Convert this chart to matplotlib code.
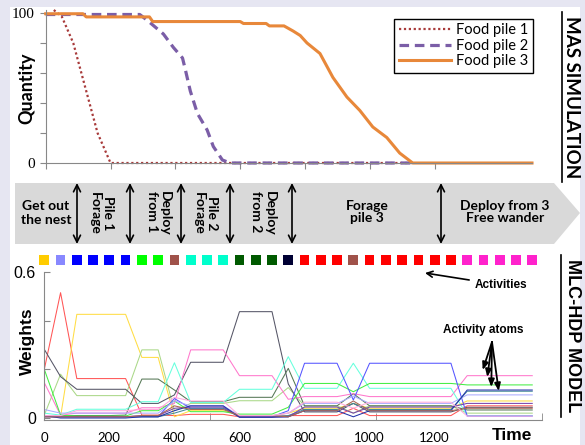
import matplotlib.pyplot as plt
from matplotlib.patches import Polygon, Rectangle
from matplotlib.ticker import FixedLocator

W, H = 585, 445

# MAS simulation: quantity left in each food pile over time
pile1_t = [25, 50, 85, 110, 135, 160, 200, 1130]
pile1_q = [102, 97.5, 80, 60, 40, 20, 0, 0]
pile2_t = [0, 290, 314, 363, 394, 422, 431, 446, 468, 498, 517, 545, 569, 1130]
pile2_q = [99, 99, 95, 86, 77, 70, 62, 48, 33, 22, 11, 2, 0, 0]
pile3_t = [0, 115, 125, 320, 330, 600, 610, 680, 690, 735, 763, 785, 806, 846,
           886, 929, 969, 1009, 1052, 1092, 1132, 1500]
pile3_q = [99.5, 99.5, 97.4, 97.4, 94.3, 94.3, 93, 93, 91.4, 91.4, 88, 85, 80, 73,
           57, 44, 35, 24, 17, 6.6, 0, 0]
pile_labels = ["Food pile 1", "Food pile 2", "Food pile 3"]

# MLC-HDP model: one activity every 50 time steps
steps = list(range(0, 1501, 50))
activity_colors = (["#ffcc00", "#8888ff"] + ["#0000ff"] * 4 + ["#00ff00"] * 2
                   + ["#a0524a"] + ["#00ffcc"] * 3 + ["#005a00"] * 3 + ["#000033"]
                   + ["#ff0000"] * 3 + ["#a0524a"] + ["#ff0000"] * 6 + ["#ff22cc"] * 5)

atom_colors = ["#ff5555", "#ffdd44", "#aad888", "#555566", "#557755", "#ff77cc",
               "#66ffdd", "#44ee44", "#5555ff", "#aaaaff", "#448899", "#7744aa",
               "#2233aa", "#aa6655", "#ffaadd"]
atom_weights = [
    [0.20, 0.515, 0.162, 0.162, 0.162, 0.162, 0.012, 0.012, 0.01, 0.015, 0.015, 0.015, 0.005, 0.005, 0.005, 0.01,
     0.01, 0.01, 0.01, 0.04, 0.01, 0.01, 0.01, 0.01, 0.01, 0.01, 0.05, 0.05, 0.05, 0.05, 0.05],
    [0.005, 0.005, 0.426, 0.426, 0.426, 0.426, 0.249, 0.249, 0.005, 0.03, 0.03, 0.03, 0.01, 0.01, 0.01, 0.02,
     0.04, 0.04, 0.04, 0.06, 0.04, 0.04, 0.04, 0.04, 0.04, 0.04, 0.07, 0.07, 0.07, 0.07, 0.07],
    [0.012, 0.18, 0.092, 0.092, 0.092, 0.092, 0.28, 0.28, 0.03, 0.06, 0.06, 0.06, 0.071, 0.071, 0.071, 0.125,
     0.05, 0.05, 0.05, 0.02, 0.05, 0.05, 0.05, 0.05, 0.05, 0.05, 0.02, 0.02, 0.02, 0.02, 0.02],
    [0.282, 0.17, 0.118, 0.118, 0.118, 0.118, 0.06, 0.06, 0.095, 0.229, 0.229, 0.229, 0.437, 0.437, 0.437, 0.14,
     0.025, 0.025, 0.025, 0.06, 0.025, 0.025, 0.025, 0.025, 0.025, 0.025, 0.044, 0.044, 0.044, 0.044, 0.044],
    [0.01, 0.01, 0.01, 0.01, 0.01, 0.012, 0.16, 0.16, 0.115, 0.067, 0.067, 0.067, 0.085, 0.085, 0.085, 0.204,
     0.05, 0.05, 0.05, 0.1, 0.05, 0.05, 0.05, 0.05, 0.05, 0.05, 0.033, 0.033, 0.033, 0.033, 0.033],
    [0.145, 0.012, 0.02, 0.02, 0.02, 0.02, 0.042, 0.042, 0.06, 0.28, 0.28, 0.28, 0.174, 0.174, 0.174, 0.077,
     0.088, 0.088, 0.088, 0.1, 0.088, 0.088, 0.088, 0.088, 0.088, 0.088, 0.174, 0.174, 0.174, 0.174, 0.174],
    [0.02, 0.012, 0.036, 0.036, 0.036, 0.036, 0.067, 0.067, 0.227, 0.064, 0.064, 0.064, 0.118, 0.118, 0.118, 0.252,
     0.122, 0.122, 0.122, 0.225, 0.122, 0.122, 0.122, 0.122, 0.122, 0.122, 0.01, 0.01, 0.01, 0.01, 0.01],
    [0.2, 0.012, 0.008, 0.008, 0.008, 0.008, 0.03, 0.03, 0.07, 0.026, 0.026, 0.026, 0.016, 0.016, 0.016, 0.044,
     0.142, 0.142, 0.142, 0.108, 0.142, 0.142, 0.142, 0.142, 0.142, 0.142, 0.136, 0.136, 0.136, 0.136, 0.136],
    [0.005, 0.005, 0.005, 0.005, 0.005, 0.005, 0.005, 0.005, 0.08, 0.04, 0.04, 0.04, 0.005, 0.005, 0.005, 0.03,
     0.225, 0.225, 0.225, 0.074, 0.225, 0.225, 0.225, 0.225, 0.225, 0.225, 0.008, 0.008, 0.008, 0.008, 0.008],
    [0.035, 0.02, 0.02, 0.02, 0.02, 0.02, 0.02, 0.02, 0.07, 0.05, 0.05, 0.05, 0.01, 0.01, 0.01, 0.02,
     0.06, 0.06, 0.06, 0.09, 0.06, 0.06, 0.06, 0.06, 0.06, 0.06, 0.095, 0.095, 0.095, 0.095, 0.095],
    [0.01, 0.005, 0.005, 0.005, 0.005, 0.005, 0.005, 0.005, 0.02, 0.04, 0.04, 0.04, 0.005, 0.005, 0.005, 0.01,
     0.035, 0.035, 0.035, 0.06, 0.035, 0.035, 0.035, 0.035, 0.035, 0.035, 0.11, 0.11, 0.11, 0.11, 0.11],
    [0.005, 0.005, 0.005, 0.005, 0.005, 0.005, 0.01, 0.01, 0.04, 0.045, 0.045, 0.045, 0.005, 0.005, 0.005, 0.005,
     0.045, 0.045, 0.045, 0.02, 0.045, 0.045, 0.045, 0.045, 0.045, 0.045, 0.06, 0.06, 0.06, 0.06, 0.06],
    [0.01, 0.0, 0.0, 0.0, 0.0, 0.0, 0.005, 0.005, 0.03, 0.05, 0.05, 0.05, 0.003, 0.003, 0.003, 0.005,
     0.03, 0.03, 0.03, 0.005, 0.03, 0.03, 0.03, 0.03, 0.03, 0.03, 0.115, 0.115, 0.115, 0.115, 0.115],
    [0.005, 0.005, 0.005, 0.005, 0.005, 0.005, 0.01, 0.01, 0.05, 0.035, 0.035, 0.035, 0.01, 0.01, 0.01, 0.005,
     0.03, 0.03, 0.03, 0.07, 0.03, 0.03, 0.03, 0.03, 0.03, 0.03, 0.04, 0.04, 0.04, 0.04, 0.04],
    [0.01, 0.01, 0.03, 0.03, 0.03, 0.03, 0.035, 0.035, 0.085, 0.07, 0.07, 0.07, 0.01, 0.01, 0.01, 0.02,
     0.065, 0.065, 0.065, 0.04, 0.065, 0.065, 0.065, 0.065, 0.065, 0.065, 0.008, 0.008, 0.008, 0.008, 0.008],
]

SPINE = "#888888"

fig = plt.figure(figsize=(W / 100, H / 100), dpi=100)
fig.patch.set_facecolor("#e6e6f2")

# full-figure layer in pixel coords for the panel, phase banner and side titles
bg = fig.add_axes([0, 0, 1, 1], zorder=0)
bg.set_xlim(0, W)
bg.set_ylim(H, 0)
bg.axis("off")
bg.add_patch(Rectangle((10, 7), 570, 438, facecolor="white", edgecolor="none"))
bg.add_patch(Polygon([(15, 183), (554, 183), (580, 213), (554, 244), (15, 244)],
                     closed=True, facecolor="#d9d9d9", edgecolor="none"))
for x in [77, 130, 181, 230, 292, 441]:
    bg.annotate("", xy=(x, 183), xytext=(x, 244),
                arrowprops=dict(arrowstyle="<->, head_length=0.5, head_width=0.25",
                                lw=1.2, color="black", shrinkA=0, shrinkB=0))

band = dict(family="Lato", fontweight="bold", fontsize=10, linespacing=1.1)
bg.text(46, 213, "Get out\nthe nest", ha="center", va="center", **band)
bg.text(101, 213, "Pile 1\nForage", rotation=-90, ha="center", va="center", ma="center", **band)
bg.text(158, 191, "Deploy\nfrom 1", rotation=-90, ha="center", va="top", ma="left", **band)
bg.text(205, 213, "Pile 2\nForage", rotation=-90, ha="center", va="center", ma="center", **band)
bg.text(263, 191, "Deploy\nfrom 2", rotation=-90, ha="center", va="top", ma="left", **band)
bg.text(367, 212, "Forage\npile 3", ha="center", va="center", **band)
bg.text(505, 212, "Deploy from 3\nFree wander", ha="center", va="center", **band)

bg.text(571, 97, "MAS SIMULATION", rotation=-90, ha="center", va="center",
        family="Lato", fontweight="bold", fontsize=13.5)
bg.plot([562, 562], [12, 182], color="black", lw=1.2)
bg.text(572, 336, "MLC-HDP MODEL", rotation=-90, ha="center", va="center",
        family="Liberation Sans", fontweight="bold", fontsize=13)
bg.plot([561, 561], [255, 417], color="black", lw=1.2)

bg.text(27, 88, "Quantity", rotation=90, ha="center", va="center",
        family="Lato", fontweight="bold", fontsize=13)
bg.text(27, 341, "Weights", rotation=90, ha="center", va="center",
        family="Liberation Sans", fontweight="bold", fontsize=12.5)
bg.text(512, 435, "Time", ha="center", va="center",
        family="Liberation Sans", fontweight="bold", fontsize=12.5)

# top: food piles
ax1 = fig.add_axes([45.7 / W, (H - 163) / H, (532 - 45.7) / W, 153 / H], zorder=2)
ax1.set_facecolor("none")
ax1.plot(pile1_t, pile1_q, color="#a83a3a", lw=1.6, ls=(0, (1, 1.2)), label=pile_labels[0], clip_on=False)
ax1.plot(pile2_t, pile2_q, color="#7b5ea7", lw=2.3, ls=(0, (3, 1.8)), label=pile_labels[1], clip_on=False)
ax1.plot(pile3_t, pile3_q, color="#e8883a", lw=2.2, label=pile_labels[2], clip_on=False)
ax1.set_xlim(0, 1500)
ax1.set_ylim(0, 102)
for s in ["top", "right"]:
    ax1.spines[s].set_visible(False)
for s in ["left", "bottom"]:
    ax1.spines[s].set_color(SPINE)
ax1.set_xticks(range(0, 1201, 200))
ax1.set_xticklabels([])
ax1.set_yticks(range(0, 101, 20))
ax1.set_yticklabels(["0", "", "", "", "", "100"], family="Liberation Serif", fontsize=11)
ax1.tick_params(direction="out", length=4, color=SPINE, pad=4)
leg = ax1.legend(loc="upper right", bbox_to_anchor=(533 / W, (H - 19) / H),
                 bbox_transform=fig.transFigure, frameon=True, fancybox=False,
                 edgecolor="black", framealpha=1, borderaxespad=0, handlelength=3.6,
                 handletextpad=0.35, labelspacing=0.1, borderpad=0.3,
                 prop={"family": "Lato", "size": 10.5})
leg.get_frame().set_linewidth(1.0)

# bottom: activity atom weights
ax2 = fig.add_axes([44.3 / W, (H - 420) / H, (542 - 44.3) / W, 148 / H], zorder=2)
ax2.set_facecolor("none")
for vals, col in zip(atom_weights, atom_colors):
    ax2.plot(steps, vals, color=col, lw=0.75)
ax2.scatter(steps, [0.65] * len(steps), marker="s", s=7 ** 2, c=activity_colors,
            linewidths=0, clip_on=False)
ax2.set_xlim(0, 1530)
ax2.set_ylim(-0.0082, 0.6)
for s in ["top", "right"]:
    ax2.spines[s].set_visible(False)
for s in ["left", "bottom"]:
    ax2.spines[s].set_color(SPINE)
ax2.set_xticks(range(0, 1201, 200))
ax2.set_xticklabels([str(v) for v in range(0, 1201, 200)], family="Lato", fontsize=9.5)
ax2.tick_params(axis="x", length=0, pad=9)
ax2.xaxis.set_minor_locator(FixedLocator([510, 1020, 1530]))
ax2.tick_params(axis="x", which="minor", direction="in", length=5, color=SPINE)
ax2.set_yticks([0, 0.2, 0.4, 0.6])
ax2.set_yticklabels(["0", "", "", "0.6"], family="Liberation Sans", fontsize=11.5)
ax2.tick_params(axis="y", direction="in", length=4, color=SPINE, pad=6)

# annotations on top of everything
fg = fig.add_axes([0, 0, 1, 1], zorder=5)
fg.set_xlim(0, W)
fg.set_ylim(H, 0)
fg.axis("off")
fg.annotate("Activities", xy=(425, 273), xytext=(501, 285), ha="center", va="center",
            family="Liberation Sans", fontweight="bold", fontsize=8.5,
            arrowprops=dict(arrowstyle="->, head_length=0.5, head_width=0.25",
                            lw=1.2, color="black", shrinkB=0))
fg.text(483, 330, "Activity atoms", ha="center", va="center",
        family="Liberation Sans", fontweight="bold", fontsize=8.5)
for tip in [(482.7, 370), (487.3, 377), (491.3, 387), (498.7, 391)]:
    fg.annotate("", xy=tip, xytext=(492, 342),
                arrowprops=dict(arrowstyle="-|>, head_length=0.45, head_width=0.18",
                                lw=1.3, color="black", shrinkA=0, shrinkB=0))

fig.savefig("out.png", dpi=100, facecolor=fig.get_facecolor())
